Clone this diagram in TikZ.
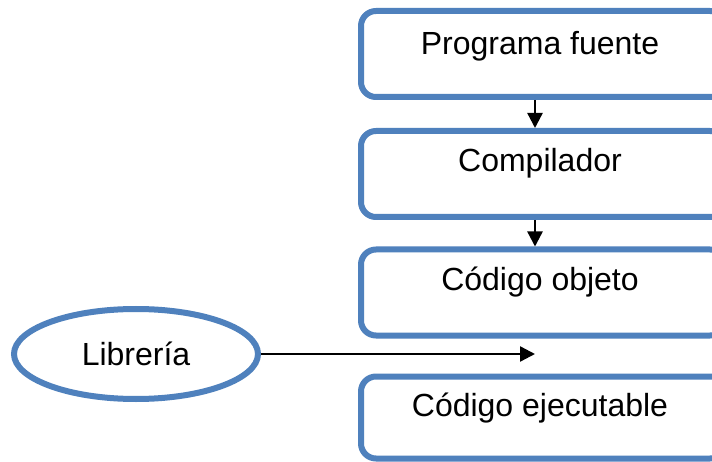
\documentclass[tikz,border=0pt]{standalone}
\usepackage{fontspec}
\setmainfont{Liberation Sans}
\usetikzlibrary{shapes.geometric,arrows.meta}
\definecolor{boxblue}{HTML}{4F81BD}
\tikzset{
  stage/.style={draw=boxblue, line width=6pt, rounded corners=15pt,
    minimum width=364pt, minimum height=86pt, anchor=north west,
    fill=white},
  stagetext/.style={font=\fontsize{32}{37}\selectfont},
  lib/.style={ellipse, draw=boxblue, line width=6pt, minimum width=244pt,
    minimum height=90pt, font=\fontsize{32}{37}\selectfont, inner sep=0pt},
  flow/.style={-{Triangle[length=15pt,width=15pt]}, line width=2.4pt, black}
}
\begin{document}
\begin{tikzpicture}[x=1pt,y=-1pt]
  \useasboundingbox (0,0) rectangle (712,462);
  \clip (0,0) rectangle (712,462);
  \fill[white] (0,0) rectangle (712,462);
  % processing stages
  \node[stage] (prog) at (358,8) {};
  \node[stagetext] (progt) at (540,46) {Programa fuente};
  \node[stage] (comp) at (358,128) {};
  \node[stagetext] (compt) at (540,163) {Compilador};
  \node[stage] (obj) at (358,246.5) {};
  \node[stagetext] (objt) at (540,282) {Código objeto};
  \node[stage, minimum height=82pt] (exe) at (358,373.5) {};
  \node[stagetext] (exet) at (540,408) {Código ejecutable};
  % library
  \node[lib] (libr) at (136,354) {Librería};
  \coordinate (join) at (535,354);
  % connectors
  \draw[flow] (prog.south -| 535,0) -- (comp.north -| 535,0);
  \draw[flow] (comp.south -| 535,0) -- (obj.north -| 535,0);
  \draw[flow] (libr.east) -- (join);
\end{tikzpicture}
\end{document}
